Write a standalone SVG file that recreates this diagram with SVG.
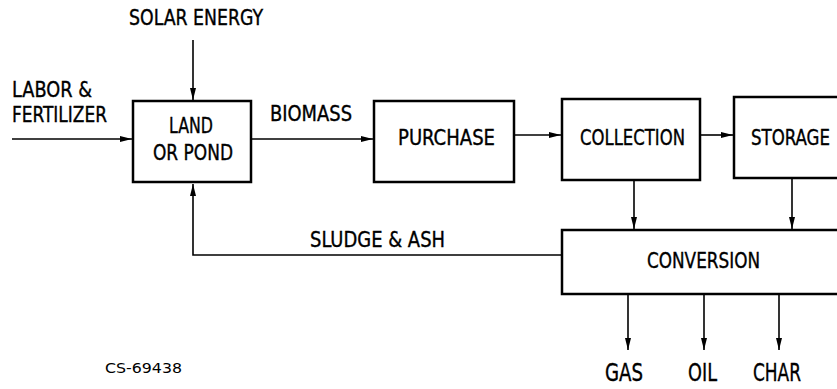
<svg xmlns="http://www.w3.org/2000/svg" width="837" height="389" viewBox="0 0 837 389">
<defs>
<style>
.box{fill:#fff;stroke:#000;stroke-width:2.5}
.ln{fill:none;stroke:#000;stroke-width:1.6}
.t{font-family:"DejaVu Sans Condensed","DejaVu Sans",sans-serif;font-stretch:condensed;font-size:21px;fill:#000;stroke:#000;stroke-width:0.35}
.b{font-size:24px}
.s{font-family:"DejaVu Sans","Liberation Sans",sans-serif;font-size:14px;fill:#000}
</style>
<marker id="ah" viewBox="0 0 12 6" refX="12" refY="3" markerWidth="12" markerHeight="6" markerUnits="userSpaceOnUse" orient="auto">
<path d="M0,0 L12,3 L0,6 z" fill="#000"/>
</marker>
</defs>
<rect width="837" height="389" fill="#fff"/>
<g id="connectors">
<line class="ln" x1="193" y1="40" x2="193" y2="100" marker-end="url(#ah)"/>
<line class="ln" x1="12" y1="139" x2="132" y2="139" marker-end="url(#ah)"/>
<line class="ln" x1="252" y1="139" x2="373" y2="139" marker-end="url(#ah)"/>
<line class="ln" x1="514" y1="135" x2="561" y2="135" marker-end="url(#ah)"/>
<line class="ln" x1="701" y1="135" x2="733" y2="135" marker-end="url(#ah)"/>
<line class="ln" x1="634" y1="181" x2="634" y2="229" marker-end="url(#ah)"/>
<line class="ln" x1="792" y1="179" x2="792" y2="229" marker-end="url(#ah)"/>
<polyline class="ln" points="561,255 193,255 193,184" marker-end="url(#ah)"/>
<line class="ln" x1="628" y1="295" x2="628" y2="350" marker-end="url(#ah)"/>
<line class="ln" x1="704" y1="295" x2="704" y2="350" marker-end="url(#ah)"/>
<line class="ln" x1="779" y1="295" x2="779" y2="350" marker-end="url(#ah)"/>
</g>
<g id="land">
<rect class="box" x="133" y="101" width="118" height="81"/>
<text class="t" x="169" y="133" textLength="44" lengthAdjust="spacingAndGlyphs">LAND</text>
<text class="t" x="153" y="160" textLength="80" lengthAdjust="spacingAndGlyphs">OR POND</text>
</g>
<g id="purchase">
<rect class="box" x="374" y="101" width="140" height="81"/>
<text class="t" x="398" y="145" textLength="97" lengthAdjust="spacingAndGlyphs">PURCHASE</text>
</g>
<g id="collection">
<rect class="box" x="562" y="99" width="138" height="81"/>
<text class="t" x="580" y="145" textLength="105" lengthAdjust="spacingAndGlyphs">COLLECTION</text>
</g>
<g id="storage">
<rect class="box" x="734" y="97" width="110" height="81"/>
<text class="t" x="751" y="145" textLength="79" lengthAdjust="spacingAndGlyphs">STORAGE</text>
</g>
<g id="conversion">
<rect class="box" x="562" y="230" width="282" height="64"/>
<text class="t" x="647" y="268" textLength="113" lengthAdjust="spacingAndGlyphs">CONVERSION</text>
</g>
<g id="labels">
<text class="t" x="129" y="25" textLength="134" lengthAdjust="spacingAndGlyphs">SOLAR ENERGY</text>
<text class="t" x="12" y="97" textLength="80" lengthAdjust="spacingAndGlyphs">LABOR &amp;</text>
<text class="t" x="12" y="122" textLength="95" lengthAdjust="spacingAndGlyphs">FERTILIZER</text>
<text class="t" x="270" y="121" textLength="82" lengthAdjust="spacingAndGlyphs">BIOMASS</text>
<text class="t" x="310" y="247" textLength="135" lengthAdjust="spacingAndGlyphs">SLUDGE &amp; ASH</text>
<text class="t b" x="605" y="381" textLength="38" lengthAdjust="spacingAndGlyphs">GAS</text>
<text class="t b" x="688" y="381" textLength="29" lengthAdjust="spacingAndGlyphs">OIL</text>
<text class="t b" x="753" y="381" textLength="48" lengthAdjust="spacingAndGlyphs">CHAR</text>
<text class="s" x="105" y="373" textLength="77" lengthAdjust="spacingAndGlyphs">CS-69438</text>
</g>
</svg>
